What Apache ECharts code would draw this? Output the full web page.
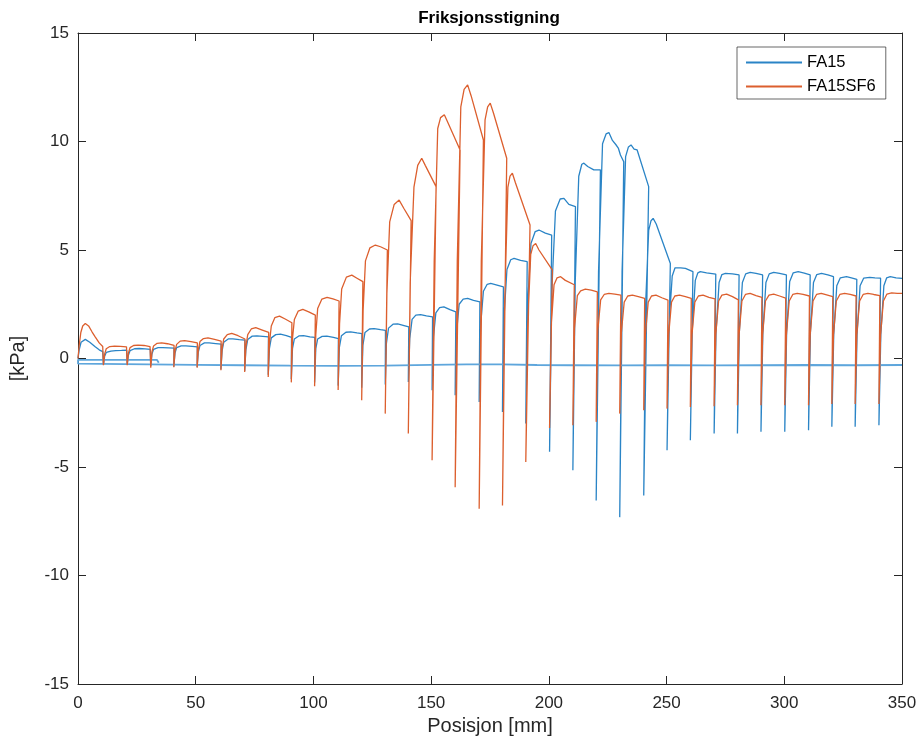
<!DOCTYPE html>
<html><head><meta charset="utf-8">
<script src="https://cdn.jsdelivr.net/npm/echarts@6/dist/echarts.min.js"></script>
<style>html,body{margin:0;padding:0;background:#fff}#chart{width:921px;height:744px}</style>
</head><body><div id="chart"></div>
<script>
// ---- data (x in mm, y in kPa) ----
const xTickValues = [0, 50, 100, 150, 200, 250, 300, 350];
const yTickValues = [-15, -10, -5, 0, 5, 10, 15];

const fa15 = [
[0,0],[0.5,0.4],[1.3,0.75],[3.1,0.88],[5,0.75],[7.3,0.54],[9,0.4],[10.5,0.32],
[10.8,-0.3],[11.3,0.1],[12,0.28],[14,0.34],[16,0.36],[18.5,0.37],[20.7,0.38],
[20.9,-0.3],[21.4,0.15],[22.1,0.36],[24,0.45],[26,0.46],[28.5,0.44],[30.7,0.42],
[30.9,-0.35],[31.4,0.2],[32.1,0.42],[34,0.5],[36,0.5],[38.5,0.49],[40.8,0.48],
[40.7,-0.38],[41.2,0.25],[41.9,0.5],[43.8,0.58],[45.8,0.58],[48.5,0.56],[50.7,0.54],
[50.6,-0.4],[51.1,0.3],[51.8,0.6],[53.7,0.72],[55.7,0.72],[58.5,0.69],[60.8,0.66],
[60.7,-0.5],[61.2,0.35],[61.9,0.75],[63.8,0.9],[65.8,0.9],[68.5,0.87],[70.9,0.85],
[70.8,-0.58],[71.3,0.4],[72.1,0.88],[74,1.03],[76,1.04],[78.5,1.02],[80.9,1.0],
[80.8,-0.75],[81.3,0.45],[82.1,0.95],[84,1.1],[86,1.12],[88.5,1.05],[90.7,0.97],
[90.6,-0.95],[91.1,0.45],[91.9,0.9],[93.8,1.04],[95.8,1.05],[98.5,1.0],[100.6,0.97],
[100.5,-1.1],[101,0.45],[101.8,0.9],[103.7,1.02],[105.7,1.03],[108.5,0.97],[110.6,0.92],
[110.5,-1.25],[111,0.5],[111.9,1.05],[113.8,1.21],[115.8,1.23],[118.5,1.18],[120.6,1.15],
[120.5,-1.35],[121,0.6],[121.9,1.2],[123.8,1.36],[125.8,1.38],[128.5,1.33],[130.6,1.3],
[130.5,-1.2],[131,0.7],[131.9,1.4],[133.8,1.58],[135.8,1.6],[138.5,1.52],[140.5,1.46],
[140.3,-1.08],[140.9,0.9],[141.9,1.8],[143.5,2.0],[145.5,2.02],[148,1.96],[150.6,1.92],
[150.4,-1.46],[151,1.0],[152,2.1],[153.6,2.34],[155.4,2.38],[158,2.25],[160.5,2.15],
[160.2,-1.69],[160.8,1.2],[161.9,2.5],[163.6,2.74],[165.5,2.77],[168,2.68],[170.7,2.61],
[170.4,-2.0],[171,1.5],[172.2,3.1],[173.8,3.42],[175.3,3.46],[178,3.38],[180.7,3.3],
[180.3,-2.46],[181,2.0],[182.2,4.1],[183.8,4.55],[185.2,4.61],[188,4.52],[190.8,4.46],
[190.2,-3.0],[191,2.5],[192.4,5.3],[194.2,5.85],[195.8,5.92],[198.5,5.78],[201.2,5.69],
[200.3,-4.3],[201.2,3.0],[202.8,6.8],[204.8,7.35],[206.4,7.38],[208.5,7.1],[211.3,7.0],
[210.2,-5.15],[211.2,3.5],[212.7,8.4],[214,8.95],[214.9,9.0],[216.5,8.85],[219.1,8.69],[221.9,8.69],
[220.1,-6.54],[221.1,4.0],[222.8,9.9],[224.3,10.35],[225.5,10.41],[227,10.05],[228.5,9.85],[229.5,9.7],[230.4,9.38],[231.8,9.07],
[230.1,-7.31],[231.1,4.0],[232.6,9.3],[233.8,9.75],[234.9,9.84],[236.2,9.65],[237.5,9.61],[242.4,7.92],
[240.3,-6.31],[241.1,2.5],[242.4,5.9],[243.4,6.35],[244.3,6.46],[245.6,6.2],[251.6,4.38],
[250.2,-4.23],[251,1.5],[252.4,3.8],[253.6,4.18],[254.4,4.23],[256,4.18],[258,4.15],[261.2,4.0],
[260.1,-3.77],[260.9,1.3],[262.2,3.6],[263.3,3.95],[264.3,4.0],[267,3.95],[270.9,3.89],
[270.2,-3.46],[271,1.2],[272.3,3.5],[273.5,3.87],[275,3.92],[278,3.9],[280.8,3.85],
[280.1,-3.46],[280.9,1.2],[282.2,3.5],[283.6,3.9],[285.5,3.97],[288,3.92],[290.8,3.85],
[290.1,-3.38],[290.9,1.2],[292.2,3.5],[293.6,3.9],[295.5,3.97],[298,3.92],[300.9,3.85],
[300.2,-3.38],[301,1.2],[302.3,3.55],[303.8,3.95],[305.9,4.0],[308.5,3.93],[311,3.85],
[310.3,-3.31],[311.1,1.2],[312.4,3.5],[313.8,3.87],[315.8,3.92],[318.5,3.85],[320.9,3.77],
[320.2,-3.15],[321,1.1],[322.3,3.35],[323.8,3.72],[326.4,3.77],[328.5,3.72],[330.8,3.65],
[330.1,-3.15],[330.9,1.1],[332.2,3.35],[333.7,3.7],[336.3,3.74],[338.5,3.72],[340.9,3.7],
[340.2,-3.08],[341,1.1],[342.3,3.35],[343.5,3.72],[345,3.77],[347.5,3.72],[350,3.69]
];

const fa15Return = [
[350,-0.3],[330,-0.31],[310,-0.3],[290,-0.31],[270,-0.32],[250,-0.31],[230,-0.32],[210,-0.31],
[195,-0.3],[180,-0.27],[165,-0.27],[150,-0.29],[130,-0.33],[110,-0.34],[90,-0.33],[70,-0.31],
[50,-0.29],[30,-0.27],[10,-0.25],[0,-0.24],[0,-0.06],[33.5,-0.06],[34.3,-0.12],[34.3,-0.2]
];

const fa15sf6 = [
[0,0],[0.5,0.6],[1.2,1.2],[2,1.5],[3.1,1.61],[4.5,1.5],[6,1.22],[7.3,1.0],[9,0.72],[10.5,0.55],
[10.8,-0.31],[11.3,0.2],[12,0.45],[13.5,0.55],[15.5,0.57],[18,0.56],[20.6,0.54],
[20.9,-0.31],[21.4,0.25],[22.1,0.5],[23.6,0.6],[25.5,0.62],[28,0.6],[30.6,0.55],
[30.9,-0.42],[31.4,0.3],[32.1,0.58],[33.6,0.7],[35.5,0.72],[38,0.68],[40.8,0.6],
[40.7,-0.4],[41.2,0.35],[41.9,0.65],[43.4,0.8],[45.3,0.82],[48,0.78],[50.7,0.72],
[50.6,-0.42],[51.1,0.4],[51.8,0.78],[53.3,0.92],[55.2,0.95],[58,0.88],[60.8,0.8],
[60.7,-0.54],[61.2,0.45],[61.9,0.9],[63.4,1.1],[65.3,1.16],[68,1.05],[70.9,0.9],
[70.8,-0.62],[71.3,0.55],[72.1,1.1],[73.6,1.36],[75.5,1.42],[78,1.32],[81,1.2],
[80.8,-0.85],[81.3,0.7],[82.1,1.5],[83.6,1.88],[85.6,1.95],[88,1.82],[90.85,1.65],
[90.6,-1.1],[91.1,0.9],[91.9,1.8],[93.5,2.18],[95.5,2.26],[98,2.15],[100.8,2.0],
[100.5,-1.28],[101,1.1],[101.8,2.3],[103.6,2.74],[105.8,2.82],[108.3,2.75],[110.9,2.65],
[110.5,-1.45],[111.1,1.6],[112,3.2],[114,3.75],[116.3,3.84],[118.5,3.7],[121,3.54],
[120.5,-1.92],[121.1,2.2],[122.1,4.5],[124,5.1],[126.3,5.23],[128.5,5.15],[131.4,5.0],
[130.5,-2.54],[131.2,3.0],[132.4,6.3],[134.3,7.1],[136.4,7.3],[138.5,6.9],[141.5,6.35],
[140.3,-3.46],[141.1,3.5],[142.7,7.9],[144.3,8.9],[146,9.23],[147.5,8.9],[152.1,7.92],
[150.4,-4.69],[151.3,4.5],[152.8,10.6],[154,11.1],[155.6,11.23],[157,10.9],[162.3,9.61],
[160.2,-5.93],[161.1,4.5],[162.6,11.6],[164,12.4],[165.5,12.61],[167,12.1],[172.2,10.07],
[170.4,-6.92],[171.3,4.5],[172.9,11.0],[174,11.6],[175.1,11.77],[176.5,11.3],[182.1,9.23],
[180.3,-6.77],[181.2,2.5],[182.6,7.9],[183.5,8.4],[184.5,8.54],[185.8,8.1],[192,6.15],
[190.2,-4.77],[191,1.5],[192.3,4.8],[193.3,5.2],[194.4,5.3],[195.8,5.0],[201.5,4.07],
[200.3,-3.2],[201,1.5],[202.2,3.4],[203.5,3.72],[205,3.77],[207,3.6],[210.8,3.4],
[210.2,-3.08],[210.9,1.4],[212.1,2.9],[213.5,3.12],[215.5,3.2],[218,3.15],[220.6,3.07],
[220.1,-2.92],[220.8,1.3],[222,2.7],[223.5,2.95],[225.5,3.0],[228,2.97],[230.6,2.92],
[230.1,-2.54],[230.8,1.2],[232,2.6],[233.5,2.88],[235.5,2.92],[238,2.85],[240.7,2.77],
[240.3,-2.38],[241,1.1],[242.2,2.6],[243.6,2.88],[245.5,2.92],[248,2.8],[250.6,2.69],
[250.2,-2.31],[250.9,1.1],[252.1,2.6],[253.5,2.88],[255.5,2.92],[258,2.85],[260.5,2.77],
[260.1,-2.23],[260.8,1.1],[262,2.6],[263.5,2.88],[265.5,2.92],[268,2.82],[270.6,2.75],
[270.2,-2.2],[270.9,1.1],[272.1,2.65],[273.5,2.92],[275.5,2.97],[278,2.85],[280.5,2.7],
[280.1,-2.15],[280.8,1.1],[282,2.65],[283.5,2.95],[285.5,3.0],[288,2.9],[290.5,2.82],
[290.1,-2.15],[290.8,1.1],[292,2.65],[293.5,2.92],[295.5,2.97],[298,2.88],[300.6,2.78],
[300.2,-2.15],[300.9,1.1],[302.1,2.65],[303.6,2.95],[305.5,3.0],[308,2.95],[310.7,2.88],
[310.3,-2.15],[311,1.1],[312.2,2.65],[313.7,2.95],[315.7,3.0],[318,2.93],[320.6,2.85],
[320.2,-2.1],[320.9,1.1],[322.1,2.65],[323.6,2.95],[325.6,3.0],[328,2.95],[330.5,2.88],
[330.1,-2.1],[330.8,1.1],[332,2.65],[333.5,2.95],[335.5,3.0],[338,2.95],[340.6,2.9],
[340.2,-2.1],[340.9,1.1],[342.1,2.65],[343.6,2.97],[345.6,3.02],[348,3.0],[350,3.0]
];

// ---- chart ----
const FONT = '"Liberation Sans", Helvetica, Arial, sans-serif';
const AX = '#262626';
const BLUE = '#2a84c6';
const ORANGE = '#dc5f2e';
const xMin = xTickValues[0], xMax = xTickValues[xTickValues.length - 1];
const yMin = yTickValues[0], yMax = yTickValues[yTickValues.length - 1];
const xStep = xTickValues[1] - xTickValues[0];
const yStep = yTickValues[1] - yTickValues[0];

function mkX(pos, labels) {
  return {
    type: 'value', position: pos, min: xMin, max: xMax, interval: xStep,
    axisLine: { show: true, onZero: false, lineStyle: { color: AX, width: 1 } },
    axisTick: { show: true, inside: true, length: 8, lineStyle: { color: AX } },
    splitLine: { show: false },
    axisLabel: { show: labels, color: AX, fontSize: 17, fontFamily: FONT, margin: 11 },
    name: labels ? 'Posisjon [mm]' : '', nameLocation: 'middle', nameGap: 27,
    nameTextStyle: { color: AX, fontSize: 20, fontFamily: FONT }
  };
}
function mkY(pos, labels) {
  return {
    type: 'value', position: pos, min: yMin, max: yMax, interval: yStep,
    axisLine: { show: true, onZero: false, lineStyle: { color: AX, width: 1 } },
    axisTick: { show: true, inside: true, length: 8, lineStyle: { color: AX } },
    splitLine: { show: false },
    axisLabel: { show: labels, color: AX, fontSize: 17, fontFamily: FONT, margin: 9 },
    name: labels ? '[kPa]' : '', nameLocation: 'middle', nameGap: 50,
    nameTextStyle: { color: AX, fontSize: 20, fontFamily: FONT }
  };
}

const chart = echarts.init(document.getElementById('chart'), null, { renderer: 'canvas' });
chart.setOption({
  animation: false,
  backgroundColor: '#ffffff',
  grid: { left: 76, right: 19, top: 33, bottom: 60, containLabel: false },
  graphic: [{
    type: 'text', x: 489, y: 10,
    style: { text: 'Friksjonsstigning', fill: '#000', font: 'bold 17px ' + FONT, textAlign: 'center', textVerticalAlign: 'top' }
  }],
  legend: {
    data: ['FA15', 'FA15SF6'],
    orient: 'vertical', left: 737, top: 47,
    backgroundColor: '#fff', borderColor: AX, borderWidth: 0.7,
    padding: [7, 10, 4, 8], itemWidth: 56, itemHeight: 16, itemGap: 7,
    itemStyle: { opacity: 0 },
    textStyle: { color: '#000', fontSize: 16.5, fontFamily: FONT }
  },
  xAxis: [mkX('bottom', true), mkX('top', false)],
  yAxis: [mkY('left', true), mkY('right', false)],
  series: [
    { name: 'FA15', type: 'line', data: fa15, symbol: 'none', showSymbol: false,
      lineStyle: { color: BLUE, width: 1.3 }, itemStyle: { color: BLUE }, z: 2 },
    { name: 'FA15', type: 'line', data: fa15Return, symbol: 'none', showSymbol: false,
      lineStyle: { color: '#5ea6dc', width: 1.8 }, itemStyle: { color: BLUE }, z: 2 },
    { name: 'FA15SF6', type: 'line', data: fa15sf6, symbol: 'none', showSymbol: false,
      lineStyle: { color: ORANGE, width: 1.3 }, itemStyle: { color: ORANGE }, z: 3 }
  ]
});
</script>
</body></html>
